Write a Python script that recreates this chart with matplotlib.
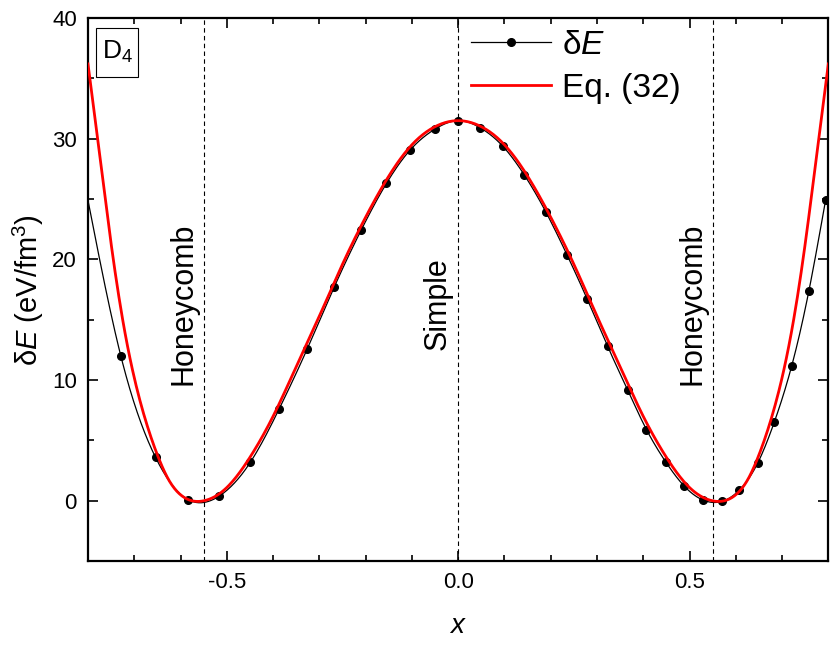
import numpy as np
import matplotlib
matplotlib.use('Agg')
import matplotlib.pyplot as plt
from matplotlib.ticker import MultipleLocator

plt.rcParams['font.family'] = ['Liberation Sans', 'DejaVu Sans']
plt.rcParams['mathtext.fontset'] = 'custom'
plt.rcParams['mathtext.rm'] = 'Liberation Sans'
plt.rcParams['mathtext.it'] = 'Liberation Sans:italic'
plt.rcParams['axes.unicode_minus'] = False

# dE data points; the first one sits on the left spine
x_de = [-0.800, -0.729, -0.654, -0.584, -0.516, -0.449, -0.387, -0.326, -0.268,
        -0.210, -0.155, -0.103, -0.050, 0.000, 0.048, 0.096, 0.143, 0.190,
        0.235, 0.279, 0.323, 0.366, 0.407, 0.449, 0.489, 0.530, 0.570, 0.608,
        0.647, 0.683, 0.721, 0.758, 0.794]
y_de = [24.9, 12.0, 3.6, 0.1, 0.4, 3.2, 7.6, 12.6, 17.7,
        22.4, 26.3, 29.1, 30.8, 31.5, 30.9, 29.4, 27.0, 23.9,
        20.4, 16.7, 12.8, 9.2, 5.9, 3.2, 1.2, 0.05, -0.05, 0.9,
        3.1, 6.5, 11.2, 17.4, 24.9]

# Eq. (32) curve
x_eq = [-0.800, -0.775, -0.750, -0.725, -0.700, -0.675, -0.650, -0.625, -0.600,
        -0.550, -0.500, -0.450, -0.400, -0.350, -0.300, -0.250, -0.200, -0.150,
        -0.100, -0.050, 0.000, 0.050, 0.100, 0.150, 0.200, 0.250, 0.300, 0.350,
        0.400, 0.450, 0.500, 0.550, 0.600, 0.625, 0.650, 0.675, 0.700, 0.725,
        0.750, 0.775, 0.800]
y_eq = [36.2, 28.7, 21.3, 15.0, 10.2, 6.6, 3.8, 1.7, 0.5,
        0.0, 1.1, 3.6, 7.0, 11.1, 15.3, 19.6, 23.5, 26.9,
        29.5, 31.0, 31.5, 31.0, 29.5, 26.9, 23.5, 19.6, 15.3, 11.1,
        7.0, 3.6, 1.1, 0.0, 0.5, 1.7, 3.8, 6.6, 10.2, 15.0,
        21.3, 28.7, 36.2]

x_marks = [-0.55, 0.0, 0.55]
mark_labels = ['Honeycomb', 'Simple', 'Honeycomb']


def spline(x, y, n=600):
    # natural cubic spline, only used to draw smooth connecting lines
    x = np.asarray(x, float)
    y = np.asarray(y, float)
    h = np.diff(x)
    m = len(x)
    A = np.zeros((m, m))
    b = np.zeros(m)
    A[0, 0] = A[-1, -1] = 1
    for i in range(1, m - 1):
        A[i, i - 1] = h[i - 1]
        A[i, i] = 2 * (h[i - 1] + h[i])
        A[i, i + 1] = h[i]
        b[i] = 3 * ((y[i + 1] - y[i]) / h[i] - (y[i] - y[i - 1]) / h[i - 1])
    c = np.linalg.solve(A, b)
    xs = np.linspace(x[0], x[-1], n)
    k = np.clip(np.searchsorted(x, xs) - 1, 0, m - 2)
    dx = xs - x[k]
    bk = (y[k + 1] - y[k]) / h[k] - h[k] * (2 * c[k] + c[k + 1]) / 3
    dk = (c[k + 1] - c[k]) / (3 * h[k])
    return xs, y[k] + bk * dx + c[k] * dx ** 2 + dk * dx ** 3


fig = plt.figure(figsize=(8.3, 6.45), dpi=100)
ax = fig.add_axes([0.106, 0.130, 0.892, 0.842])

for xm in x_marks:
    ax.axvline(xm, color='black', ls=(0, (4, 3)), lw=0.8, zorder=1)

xs, ys = spline(x_de, y_de)
ax.plot(xs, ys, color='black', lw=0.9, zorder=2)
xd = np.array(x_de)
yd = np.array(y_de)
inside = xd > -0.8
ax.plot(xd[inside], yd[inside], 'o', color='black', ms=5.5, zorder=3)

xs, ys = spline(x_eq, y_eq)
ax.plot(xs, ys, color='red', lw=2.0, zorder=4)

# legend handles
h1, = ax.plot([], [], '-o', color='black', lw=0.9, ms=5.5)
h2, = ax.plot([], [], '-', color='red', lw=2.0)
ax.legend([h1, h2], ['δ$E$', 'Eq. (32)'], loc='upper left',
          bbox_to_anchor=(0.517, 0.978), frameon=False, fontsize=24,
          handlelength=2.4, handletextpad=0.35, borderpad=0,
          borderaxespad=0, labelspacing=0.36)

for xm, lab in zip(x_marks, mark_labels):
    ax.annotate(lab, (xm, 16.3), xytext=(-4, 0), textcoords='offset points',
                rotation=90, ha='right', va='center', fontsize=22)

# D4 panel tag in a thin box
ax.add_patch(plt.Rectangle((0.0108, 0.891), 0.0567, 0.091, transform=ax.transAxes,
                           fc='white', ec='black', lw=0.8, zorder=5))
ax.text(0.0195, 0.937, 'D$_4$', transform=ax.transAxes, fontsize=19,
        ha='left', va='center', zorder=6)

ax.set_xlim(-0.8, 0.8)
ax.set_ylim(-5, 40)
ax.xaxis.set_major_locator(MultipleLocator(0.5))
ax.xaxis.set_minor_locator(MultipleLocator(0.1))
ax.yaxis.set_major_locator(MultipleLocator(10))
ax.yaxis.set_minor_locator(MultipleLocator(5))
ax.xaxis.set_major_formatter(plt.FuncFormatter(lambda v, p: f'{v:.1f}'))
ax.tick_params(which='both', direction='in', top=True, right=True,
               labelsize=16, width=1.2)
ax.tick_params(which='major', length=7, pad=8)
ax.tick_params(which='minor', length=4)
for s in ax.spines.values():
    s.set_linewidth(1.6)

ax.set_xlabel('$x$', fontsize=20, labelpad=14)
ax.set_ylabel('δ$E$ (eV/fm$^3$)', fontsize=21, labelpad=4)

fig.savefig('out.png', dpi=100)
